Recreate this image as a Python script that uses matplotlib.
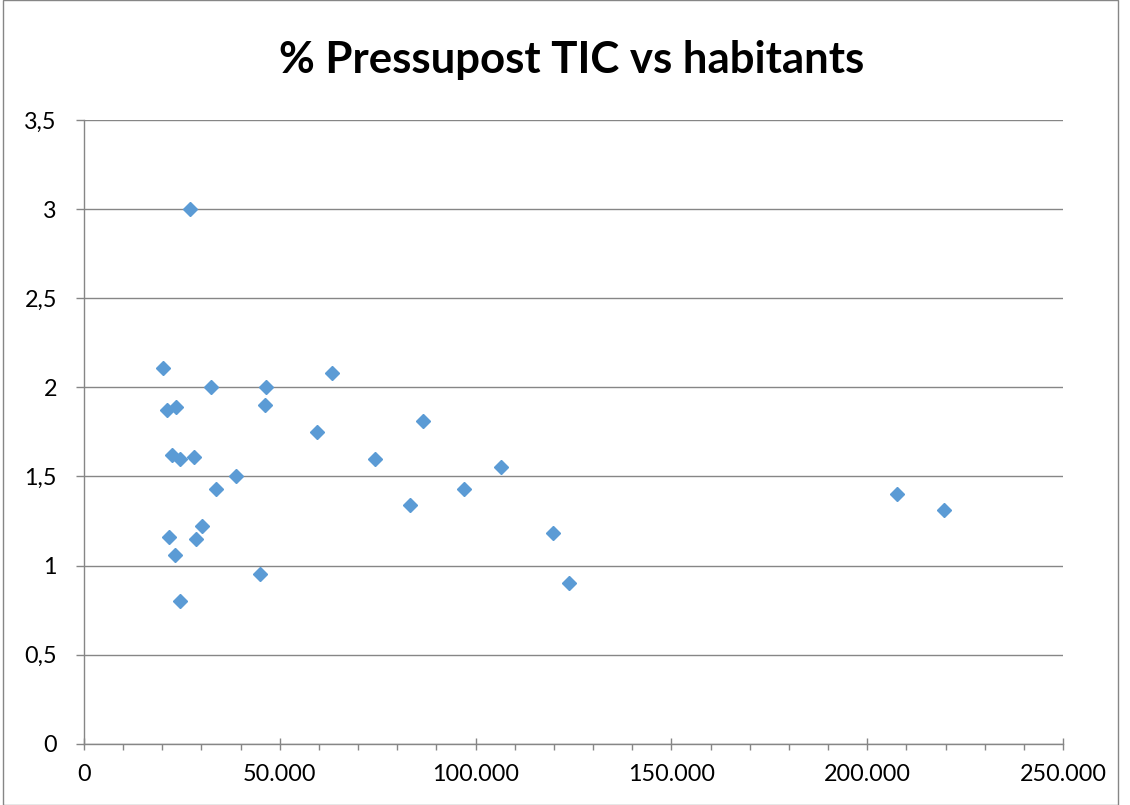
import matplotlib
matplotlib.use("Agg")
import matplotlib.pyplot as plt
from matplotlib.ticker import FixedLocator, MultipleLocator, FuncFormatter
from matplotlib.patches import Rectangle

habitants = [27070, 20260, 32350, 46490, 63250, 21280, 23580, 46140, 59590,
             22390, 24430, 28010, 74320, 38740, 33630, 30050, 21800, 28520,
             23320, 44950, 24520, 86500, 106580, 97130, 83260, 119860, 123950,
             207640, 219640]
pressupost = [3.00, 2.11, 2.00, 2.00, 2.08, 1.87, 1.89, 1.90, 1.75,
              1.62, 1.60, 1.61, 1.60, 1.50, 1.43, 1.22, 1.16, 1.15,
              1.06, 0.95, 0.80, 1.81, 1.55, 1.43, 1.34, 1.18, 0.90,
              1.40, 1.31]
title = "% Pressupost TIC vs habitants"
x_ticks = [0, 50000, 100000, 150000, 200000, 250000]
y_ticks = [0, 0.5, 1, 1.5, 2, 2.5, 3, 3.5]

plt.rcParams['font.family'] = ['Lato', 'DejaVu Sans']

fig = plt.figure(figsize=(11.3, 8.05), dpi=100)
ax = fig.add_axes([84/1130, 1-743.7/805, (1063-84)/1130, (743.7-120)/805])

ax.plot(habitants, pressupost, linestyle='none', marker='D', ms=7.5,
        color='#5B9BD5', markeredgecolor='#5B9BD5', zorder=3)

ax.set_xlim(0, 250000)
ax.set_ylim(0, 3.5)
ax.xaxis.set_major_locator(FixedLocator(x_ticks))
ax.xaxis.set_minor_locator(MultipleLocator(10000))
ax.yaxis.set_major_locator(FixedLocator(y_ticks))

def xfmt(v, pos):
    return f"{int(round(v)):,}".replace(",", ".")

def yfmt(v, pos):
    s = f"{v:g}"
    return s.replace(".", ",")

ax.xaxis.set_major_formatter(FuncFormatter(xfmt))
ax.yaxis.set_major_formatter(FuncFormatter(yfmt))

grid_c = '#868686'
ax.grid(axis='y', color=grid_c, linewidth=1.0, zorder=0)
ax.set_axisbelow(True)
for s in ['top', 'right']:
    ax.spines[s].set_visible(False)
for s in ['left', 'bottom']:
    ax.spines[s].set_color(grid_c)
    ax.spines[s].set_linewidth(1.0)

ax.tick_params(axis='x', which='major', direction='inout', length=9, width=1,
               color=grid_c, labelsize=16.8, pad=10, labelcolor='black')
ax.tick_params(axis='x', which='minor', direction='out', length=4, width=1,
               color=grid_c)
ax.tick_params(axis='y', which='major', direction='out', length=6, width=1,
               color=grid_c, labelsize=16.8, pad=13.5, labelcolor='black')

fig.text(0.506, 1-60/805, title, ha='center', va='center', fontsize=31.5,
         fontweight='bold', color='black')

fig.patches.append(Rectangle((3/1130, 0), (1118-3)/1130, 1-0.5/805,
                             transform=fig.transFigure, fill=False,
                             edgecolor='#868686', linewidth=1.0))

fig.savefig("out.png", dpi=100)
